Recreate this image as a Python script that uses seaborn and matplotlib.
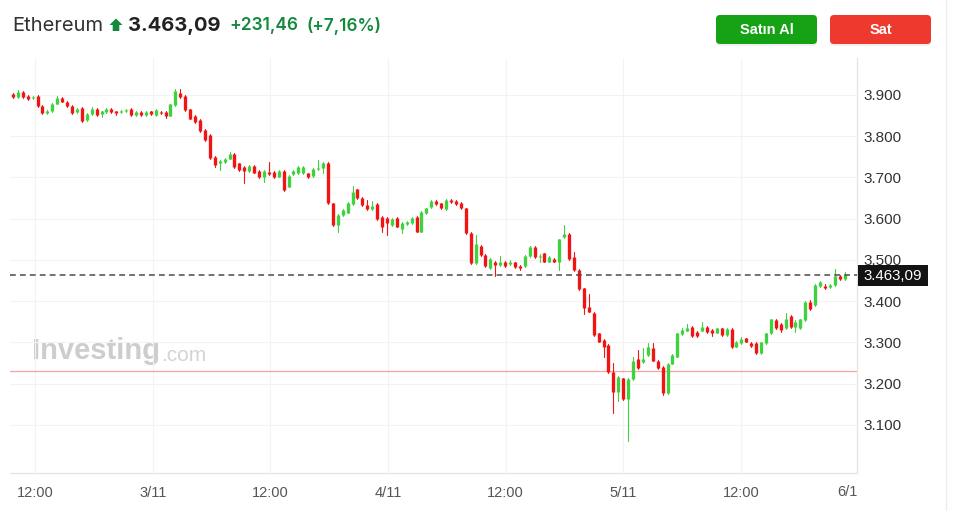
import numpy as np
import pandas as pd
import matplotlib
matplotlib.use("Agg")
import matplotlib.pyplot as plt
import matplotlib.transforms as mtransforms
from matplotlib.patches import Rectangle, FancyBboxPatch, Polygon
from matplotlib.lines import Line2D
import seaborn as sns

# ---------------- data (30-minute candles, ETH price) ----------------
opens = [3902, 3895, 3907, 3897, 3892, 3897, 3873, 3857, 3860, 3879, 3892, 3884, 3873, 3858, 3868, 3840,
         3853, 3866, 3853, 3859, 3866, 3860, 3858, 3861, 3867, 3851, 3858, 3852, 3860, 3852, 3858, 3858,
         3850, 3876, 3906, 3897, 3865, 3850, 3839, 3815, 3803, 3750, 3734, 3737, 3746, 3758, 3734, 3725,
         3716, 3728, 3716, 3702, 3714, 3714, 3702, 3716, 3678, 3708, 3710, 3710, 3710, 3704, 3720, 3722,
         3736, 3637, 3585,
         3609, 3615, 3636, 3671, 3650, 3633, 3623, 3636, 3605, 3603, 3585, 3603, 3574, 3587, 3589, 3605,
         3569, 3613, 3629, 3644, 3637, 3623, 3646, 3644, 3639, 3625, 3565, 3492, 3534, 3512, 3480, 3496,
         3488, 3496,
         3490, 3494, 3486, 3485, 3510, 3531, 3507, 3516, 3496, 3502, 3496, 3555, 3563, 3508, 3476, 3431,
         3385, 3372, 3322, 3306, 3294, 3229, 3181, 3213, 3162, 3211, 3259, 3252, 3270, 3286, 3256, 3241,
         3177, 3249,
         3266, 3321, 3329, 3338, 3326, 3329, 3337, 3330, 3324, 3334, 3318, 3332, 3290, 3298, 3310, 3298,
         3298, 3275, 3298, 3322, 3355, 3345, 3334, 3364, 3338, 3334, 3355, 3397, 3391, 3437, 3437, 3435,
         3439, 3461, 3453]
highs = [3904, 3913, 3909, 3899, 3897, 3899, 3875, 3864, 3881, 3897, 3895, 3886, 3875, 3868, 3870, 3856,
         3870, 3868, 3862, 3868, 3868, 3862, 3863, 3866, 3869, 3860, 3860, 3861, 3862, 3866, 3860, 3860,
         3879, 3915, 3914, 3899, 3867, 3852, 3841, 3817, 3805, 3752, 3742, 3747, 3762, 3760, 3736, 3727,
         3730, 3730, 3718, 3718, 3738, 3716, 3718, 3718, 3706, 3718, 3728, 3728, 3712, 3722, 3743, 3738,
         3738, 3639, 3611,
         3623, 3641, 3679, 3673, 3652, 3645, 3644, 3638, 3607, 3605, 3601, 3605, 3592, 3595, 3605, 3607,
         3619, 3627, 3646, 3646, 3639, 3648, 3649, 3646, 3641, 3627, 3567, 3561, 3536, 3514, 3504, 3498,
         3510, 3498,
         3500, 3496, 3488, 3512, 3534, 3533, 3515, 3518, 3510, 3504, 3552, 3585, 3565, 3520, 3478, 3433,
         3418, 3374, 3324, 3308, 3296, 3250, 3219, 3215, 3213, 3264, 3282, 3287, 3298, 3298, 3258, 3243,
         3251, 3272,
         3324, 3335, 3346, 3340, 3328, 3350, 3340, 3332, 3336, 3336, 3334, 3334, 3304, 3314, 3312, 3300,
         3300, 3302, 3324, 3358, 3357, 3347, 3371, 3366, 3354, 3358, 3401, 3404, 3441, 3449, 3441, 3441,
         3477, 3463, 3470]
lows = [3892, 3893, 3893, 3889, 3890, 3871, 3855, 3855, 3858, 3877, 3882, 3871, 3855, 3856, 3835, 3838,
        3851, 3850, 3846, 3857, 3857, 3852, 3856, 3859, 3849, 3849, 3850, 3850, 3852, 3850, 3854, 3845,
        3848, 3874, 3892, 3862, 3841, 3832, 3811, 3789, 3746, 3726, 3718, 3735, 3744, 3724, 3716, 3686,
        3714, 3710, 3698, 3690, 3706, 3698, 3700, 3668, 3676, 3706, 3708, 3708, 3698, 3702, 3718, 3712,
        3635, 3583, 3569,
        3607, 3613, 3634, 3648, 3631, 3621, 3621, 3597, 3569, 3561, 3583, 3579, 3565, 3585, 3587, 3567,
        3567, 3611, 3627, 3634, 3623, 3621, 3638, 3634, 3623, 3563, 3490, 3490, 3510, 3484, 3478, 3460,
        3486, 3484,
        3488, 3480, 3476, 3483, 3508, 3506, 3496, 3494, 3494, 3494, 3476, 3553, 3500, 3474, 3427, 3370,
        3373, 3316, 3300, 3266, 3227, 3130, 3157, 3160, 3060, 3209, 3235, 3250, 3268, 3254, 3235, 3172,
        3175, 3247,
        3264, 3319, 3327, 3314, 3314, 3327, 3324, 3316, 3322, 3316, 3316, 3286, 3288, 3296, 3300, 3290,
        3273, 3273, 3296, 3320, 3332, 3326, 3332, 3336, 3326, 3332, 3353, 3378, 3389, 3435, 3429, 3433,
        3437, 3451, 3451]
closes = [3894, 3907, 3895, 3891, 3895, 3873, 3857, 3862, 3879, 3893, 3884, 3873, 3857, 3866, 3837, 3854,
          3866, 3852, 3860, 3866, 3859, 3856, 3861, 3864, 3851, 3858, 3852, 3859, 3854, 3864, 3856, 3850,
          3877, 3910, 3894, 3864, 3843, 3834, 3813, 3791, 3748, 3730, 3740, 3745, 3758, 3726, 3718, 3716,
          3728, 3712, 3700, 3716, 3708, 3700, 3716, 3670, 3704, 3716, 3726, 3726, 3700, 3720, 3722, 3736,
          3637, 3585, 3609,
          3621, 3639, 3666, 3650, 3633, 3623, 3631, 3599, 3581, 3589, 3599, 3581, 3590, 3593, 3603, 3569,
          3617, 3625, 3644, 3636, 3625, 3646, 3641, 3636, 3625, 3565, 3492, 3539, 3512, 3486, 3502, 3488,
          3496, 3486,
          3494, 3482, 3481, 3510, 3532, 3508, 3510, 3496, 3508, 3496, 3550, 3563, 3502, 3476, 3429, 3383,
          3375, 3318, 3302, 3290, 3229, 3181, 3217, 3162, 3211, 3256, 3237, 3260, 3288, 3256, 3237, 3177,
          3249, 3270,
          3322, 3330, 3334, 3316, 3316, 3337, 3326, 3322, 3334, 3318, 3332, 3288, 3302, 3309, 3302, 3292,
          3275, 3300, 3322, 3356, 3334, 3330, 3358, 3338, 3350, 3356, 3399, 3380, 3439, 3447, 3431, 3439,
          3461, 3453, 3463.09]

y_ticks = [3100, 3200, 3300, 3400, 3500, 3600, 3700, 3800, 3900]
x_tick_pos = [4.5, 28.4, 52.3, 76.2, 100.1, 124.0, 147.9, 171.8]
x_tick_labels = ["12:00", "3/11", "12:00", "4/11", "12:00", "5/11", "12:00", "6/11"]
prev_close = 3231.63
change_abs = 231.46
change_pct = 7.16
asset_name = "Ethereum"
buy_label = "Satın Al"
sell_label = "Sat"
watermark_main = "Investing"
watermark_suffix = ".com"


def tr_num(v, dec=2):
    s = f"{v:,.{dec}f}"
    return s.replace(",", "X").replace(".", ",").replace("X", ".")


# ---------------- frames for seaborn ----------------
n = len(closes)
idx = np.arange(n)
o = np.array(opens, float)
c = np.array(closes, float)
direction = np.where(c >= o, "up", "down")

wick_df = pd.DataFrame({
    "x": np.repeat(idx, 2),
    "cid": np.repeat(idx, 2),
    "price": np.column_stack([lows, highs]).ravel(),
    "dir": np.repeat(direction, 2),
})
body_df = pd.DataFrame({
    "x": np.repeat(idx, 2),
    "cid": np.repeat(idx, 2),
    "price": np.column_stack([opens, closes]).ravel(),
    "dir": np.repeat(direction, 2),
})

GREEN = "#3fd13f"
RED = "#f01515"
pal = {"up": GREEN, "down": RED}

sns.set_theme(style="white")
plt.rcParams["font.family"] = ["Liberation Sans", "DejaVu Sans"]

W, H = 960, 511
fig = plt.figure(figsize=(W / 100, H / 100), dpi=100)
fig.patch.set_facecolor("white")
# pixel transform, y measured from top
T = mtransforms.Affine2D().scale(1 / W, -1 / H).translate(0, 1) + fig.transFigure

ax_l, ax_r, ax_t, ax_b = 10, 857, 58, 473
ax = fig.add_axes([ax_l / W, 1 - ax_b / H, (ax_r - ax_l) / W, (ax_b - ax_t) / H])
ax.set_facecolor("white")

sns.lineplot(data=wick_df, x="x", y="price", units="cid", estimator=None, hue="dir",
             palette=pal, legend=False, linewidth=0.8, ax=ax, sort=False, zorder=3)
sns.lineplot(data=body_df, x="x", y="price", units="cid", estimator=None, hue="dir",
             palette=pal, legend=False, linewidth=2.4, ax=ax, sort=False,
             solid_capstyle="butt", zorder=4)

ax.set_xlim(-0.6, 171.5)
ax.set_ylim(2983.6, 3989.7)
ax.set_xlabel("")
ax.set_ylabel("")

# reference lines
ax.axhline(prev_close, color="#f6a3a3", lw=0.9, zorder=2)
ax.axhline(closes[-1], color="#4a4a4a", lw=1.1, ls=(0, (3.8, 2.7)), zorder=5)

# grid / ticks
ax.set_yticks(y_ticks)
ax.set_yticklabels([tr_num(v, 0) for v in y_ticks])
ax.set_xticks(x_tick_pos[:-1])
ax.set_xticklabels(x_tick_labels[:-1])
ax.grid(True, color="#f3f3f3", lw=0.8)
ax.set_axisbelow(True)
ax.yaxis.tick_right()
ax.tick_params(axis="y", length=0, pad=5, labelsize=11, labelcolor="#333333")
ax.tick_params(axis="x", length=0, pad=9, labelsize=10.5, labelcolor="#555555")
for side in ["top", "left"]:
    ax.spines[side].set_visible(False)
for side in ["right", "bottom"]:
    ax.spines[side].set_color("#e4e4e4")
    ax.spines[side].set_linewidth(0.9)

# last x label, nudged left and clipped by the price-axis area
shift = mtransforms.ScaledTranslation(-8 / 100, 0, fig.dpi_scale_trans)
t_last = ax.text(x_tick_pos[-1], -0.0295, x_tick_labels[-1],
                 transform=mtransforms.blended_transform_factory(ax.transData, ax.transAxes) + shift,
                 ha="center", va="top", fontsize=10.5, color="#555555", clip_on=True)
t_last.set_clip_path(Rectangle((0, 0), ax_r, H, transform=T))

# watermark
wm = ax.text(32, 351, watermark_main, transform=T, fontsize=21, fontweight="bold",
             color="#cdcdcd", ha="left", va="center", zorder=0)
ax.annotate(watermark_suffix, xy=(1, 0), xycoords=wm, xytext=(1, 0), textcoords="offset points",
            fontsize=15, color="#d4d4d4", ha="left", va="bottom", zorder=0)

# current price tag
fig.add_artist(Rectangle((858, 265), 70, 21, transform=T, facecolor="#131313", edgecolor="none"))
fig.text(863.5, 275.8, tr_num(closes[-1]), transform=T, color="white", fontsize=10.8,
         ha="left", va="center")

# far-right separator
fig.add_artist(Line2D([946, 946], [0, H], transform=T, color="#ececec", lw=1))

# header
hdr_font = ["Inter", "DejaVu Sans"]
fig.text(12, 26, asset_name, transform=T, fontsize=14.5, color="#333333", ha="left",
         va="center", family=hdr_font)
HG = "#138a3e"
fig.add_artist(Polygon([(116, 18.5), (122.5, 25), (119.3, 25), (119.3, 31), (112.7, 31),
                        (112.7, 25), (109.5, 25)], closed=True, transform=T,
                       facecolor=HG, edgecolor="none"))
fig.text(128, 26, tr_num(closes[-1]), transform=T, fontsize=14.5, fontweight="bold",
         color="#222222", ha="left", va="center", family=hdr_font)
fig.text(229, 26, "+" + tr_num(change_abs), transform=T, fontsize=12.5, fontweight="semibold",
         color=HG, ha="left", va="center", family=hdr_font)
fig.text(307, 26, "(+" + tr_num(change_pct) + "%)", transform=T, fontsize=12.3,
         fontweight="semibold", color=HG, ha="left", va="center", family=hdr_font)

# buttons
for (x0, label, col) in [(716, buy_label, "#15a315"), (830, sell_label, "#ee3a2e")]:
    fig.add_artist(FancyBboxPatch((x0, 16), 101, 30, boxstyle="round,pad=0,rounding_size=4",
                                  transform=T, facecolor="#000000", alpha=0.06,
                                  edgecolor="none"))
    fig.add_artist(FancyBboxPatch((x0, 15), 101, 29, boxstyle="round,pad=0,rounding_size=4",
                                  transform=T, facecolor=col, edgecolor="none"))
    fig.text(x0 + 50.5, 29.5, label, transform=T, fontsize=10.5, fontweight="bold",
             color="white", ha="center", va="center")

fig.savefig("out.png", dpi=100)
